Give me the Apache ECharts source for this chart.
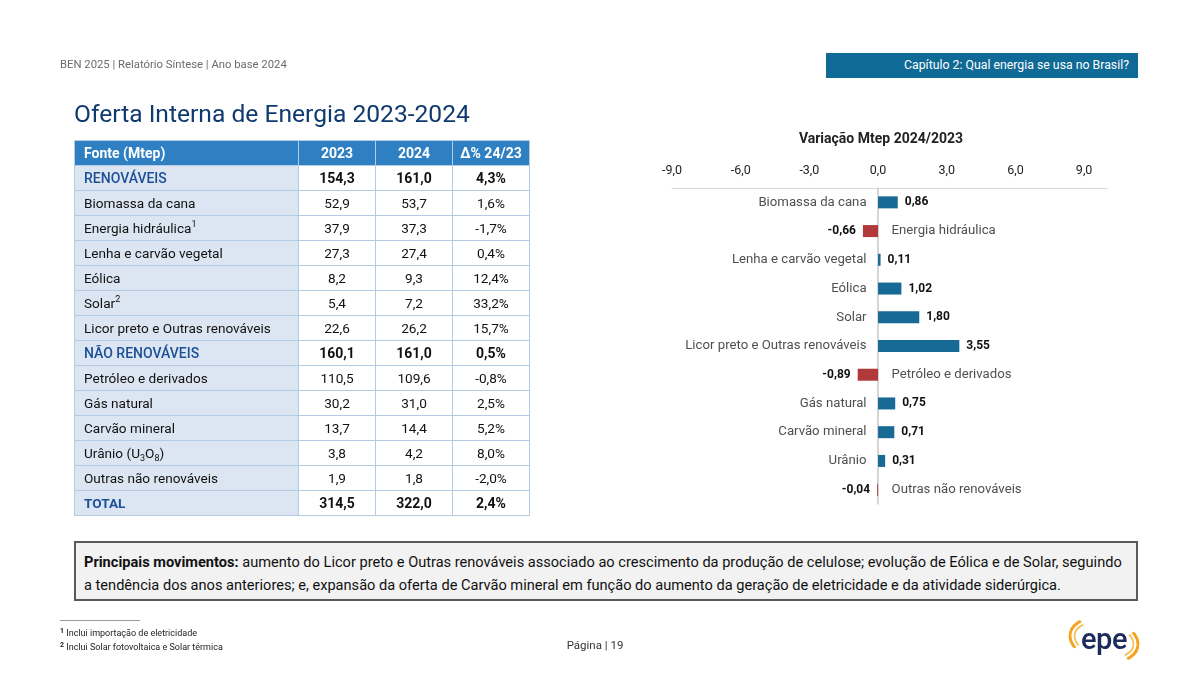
<!DOCTYPE html>
<html><head><meta charset="utf-8">
<script src="https://cdn.jsdelivr.net/npm/echarts@6/dist/echarts.min.js"></script>
<style>
html,body{margin:0;padding:0;width:1200px;height:675px;background:#fff;overflow:hidden;font-family:Roboto,"Noto Sans",sans-serif;}
#chart{position:absolute;left:0;top:0;width:1200px;height:675px;}
.abs{position:absolute;white-space:nowrap;}
#tbl{position:absolute;left:74px;top:140px;border-collapse:collapse;font-size:13.6px;color:#111;table-layout:fixed;}
#tbl td,#tbl th{border:1px solid #b3cbe3;height:24px;padding:0;}
#tbl th{background:#2f80c2;color:#fff;font-weight:bold;font-size:14px;}
#tbl th.c0,#tbl td.c0{text-align:left;padding-left:9px;}
#tbl td.c0{background:#dce6f2;}
#tbl td.n,#tbl th.n{text-align:center;}
#tbl tr.grp td.c0{color:#1d4f98;font-weight:500;font-size:14px;}
#tbl tr.grp td.n{font-weight:bold;font-size:14px;}
#tbl tr.tot td.c0{color:#1d4f98;font-weight:bold;font-size:13.6px;}
#tbl tr.tot td.n{font-weight:bold;font-size:14px;}
sup{font-size:9px;line-height:0;vertical-align:6px;}
sub{font-size:9px;line-height:0;vertical-align:-3px;}
#box{position:absolute;left:74px;top:541px;width:1064px;height:60px;box-sizing:border-box;border:2px solid #595959;background:#f2f2f2;font-size:14.6px;line-height:23px;padding:8px 0 0 8px;color:#111;white-space:nowrap;}
</style></head><body>
<div id="chart"></div>
<div class="abs" style="left:60px;top:58px;font-size:11.3px;color:#6b6b6b">BEN 2025 | Relatório Síntese | Ano base 2024</div>
<div class="abs" style="left:826px;top:53px;width:312px;height:25px;background:#0f6a96;color:#fff;font-size:12.3px;line-height:25px;text-align:right;padding-right:9px;box-sizing:border-box">Capítulo 2: Qual energia se usa no Brasil?</div>
<div class="abs" style="left:74px;top:99px;font-size:24.6px;color:#0e3a6f;">Oferta Interna de Energia 2023-2024</div>
<table id="tbl"></table>
<div id="box"><b>Principais movimentos:</b> aumento do Licor preto e Outras renováveis associado ao crescimento da produção de celulose; evolução de Eólica e de Solar, seguindo<br>a tendência dos anos anteriores; e, expansão da oferta de Carvão mineral em função do aumento da geração de eletricidade e da atividade siderúrgica.</div>
<div class="abs" style="left:60px;top:620px;width:80px;height:1px;background:#9a9a9a"></div>
<div class="abs" style="left:60px;top:625px;font-size:9px;line-height:12px;color:#222"><b style="font-size:7px;vertical-align:3px">1</b> Inclui importação de eletricidade<br><b style="font-size:7px;vertical-align:3px">2</b> Inclui Solar fotovoltaica e Solar térmica</div>
<div class="abs" style="left:560px;top:638px;width:70px;text-align:center;font-size:11.5px;color:#333">Página | 19</div>
<div class="abs" style="left:1068px;top:617px;width:72px;height:46px;">
  <div class="abs" style="left:0;top:0;width:72px;height:46px;border-radius:50%;border:3px solid transparent;border-left-color:#f5a31a;border-right-color:#f5a31a;box-sizing:border-box;transform:rotate(12deg)"></div>
  <div class="abs" style="left:5px;top:5px;width:62px;height:36px;border-radius:50%;border:2px solid transparent;border-left-color:#f8c060;border-right-color:#f8c060;box-sizing:border-box;transform:rotate(12deg)"></div>
  <div class="abs" style="left:0;top:6px;width:72px;text-align:center;font-size:29px;line-height:32px;color:#1d2a5c;font-weight:500;letter-spacing:-0.5px">epe</div>
</div>
<script>
// ---- Table data ----
const tableHeader = ["Fonte (Mtep)", "2023", "2024", "Δ% 24/23"];
const tableRows = ["RENOVÁVEIS", "Biomassa da cana", "Energia hidráulica<sup>1</sup>", "Lenha e carvão vegetal", "Eólica", "Solar<sup>2</sup>", "Licor preto e Outras renováveis", "NÃO RENOVÁVEIS", "Petróleo e derivados", "Gás natural", "Carvão mineral", "Urânio (U<sub>3</sub>O<sub>8</sub>)", "Outras não renováveis", "TOTAL"];
const values2023 = ["154,3", "52,9", "37,9", "27,3", "8,2", "5,4", "22,6", "160,1", "110,5", "30,2", "13,7", "3,8", "1,9", "314,5"];
const values2024 = ["161,0", "53,7", "37,3", "27,4", "9,3", "7,2", "26,2", "161,0", "109,6", "31,0", "14,4", "4,2", "1,8", "322,0"];
const pctChange = ["4,3%", "1,6%", "-1,7%", "0,4%", "12,4%", "33,2%", "15,7%", "0,5%", "-0,8%", "2,5%", "5,2%", "8,0%", "-2,0%", "2,4%"];
const groupRows = [0, 7];
const totalRow = 13;

// ---- Chart data ----
const deltaCats = ["Biomassa da cana", "Energia hidráulica", "Lenha e carvão vegetal", "Eólica", "Solar", "Licor preto e Outras renováveis", "Petróleo e derivados", "Gás natural", "Carvão mineral", "Urânio", "Outras não renováveis"];
const deltaVals = [0.86, -0.66, 0.11, 1.02, 1.80, 3.55, -0.89, 0.75, 0.71, 0.31, -0.04];
const axisTicks = [-9, -6, -3, 0, 3, 6, 9];

// build table
(function(){
  const t = document.getElementById('tbl');
  const widths = [224, 77, 77, 77];
  let html = '<colgroup>' + widths.map(w => '<col style="width:' + w + 'px">').join('') + '</colgroup>';
  html += '<tr>' + tableHeader.map((h, i) => '<th class="' + (i === 0 ? 'c0' : 'n') + '">' + h + '</th>').join('') + '</tr>';
  tableRows.forEach((r, i) => {
    const cls = groupRows.includes(i) ? 'grp' : (i === totalRow ? 'tot' : '');
    html += '<tr class="' + cls + '"><td class="c0">' + r + '</td><td class="n">' + values2023[i] + '</td><td class="n">' + values2024[i] + '</td><td class="n">' + pctChange[i] + '</td></tr>';
  });
  t.innerHTML = html;
})();

const BLUE = '#176a96', RED = '#b2393a';
const fmt2 = v => v.toFixed(2).replace('.', ',');
const chart = echarts.init(document.getElementById('chart'), null, {renderer: 'canvas'});
chart.setOption({
  animation: false,
  textStyle: {fontFamily: 'Roboto, "Noto Sans", sans-serif'},
  title: {
    text: 'Variação Mtep 2024/2023', left: 876, top: 127, textAlign: 'center',
    textStyle: {fontSize: 14, fontWeight: 'bold', color: '#222'}
  },
  grid: {left: 672, right: 93, top: 188, height: 316, containLabel: false},
  xAxis: {
    type: 'value', position: 'top', min: -9, max: 10, interval: 3,
    axisLine: {show: true, lineStyle: {color: '#d9d9d9', width: 1}},
    axisTick: {show: false}, splitLine: {show: false},
    axisLabel: {
      margin: 11, fontSize: 12.5, color: '#222',
      formatter: v => axisTicks.includes(v) ? v.toFixed(1).replace('.', ',') : ''
    }
  },
  yAxis: {
    type: 'category', inverse: true, data: deltaCats,
    axisLine: {show: true, onZero: true, lineStyle: {color: '#c9c9c9', width: 1.5}},
    axisTick: {show: false}, axisLabel: {show: false}, splitLine: {show: false}
  },
  series: [
    {
      type: 'bar', barWidth: 12, silent: true,
      data: deltaVals.map(v => ({
        value: v,
        itemStyle: {color: v < 0 ? RED : BLUE},
        label: {position: v < 0 ? 'left' : 'right'}
      })),
      label: {show: true, distance: 7, fontSize: 12, fontWeight: 'bold', color: '#111', formatter: p => fmt2(p.value)}
    },
    {
      type: 'scatter', symbolSize: 1, silent: true,
      itemStyle: {color: 'rgba(0,0,0,0)'},
      data: deltaCats.map((c, i) => ({
        value: [0, c],
        label: {position: deltaVals[i] < 0 ? 'right' : 'left', distance: deltaVals[i] < 0 ? 13 : 11}
      })),
      label: {show: true, fontSize: 13.2, color: '#222', formatter: p => p.value[1]}
    }
  ]
});
</script>
</body></html>
